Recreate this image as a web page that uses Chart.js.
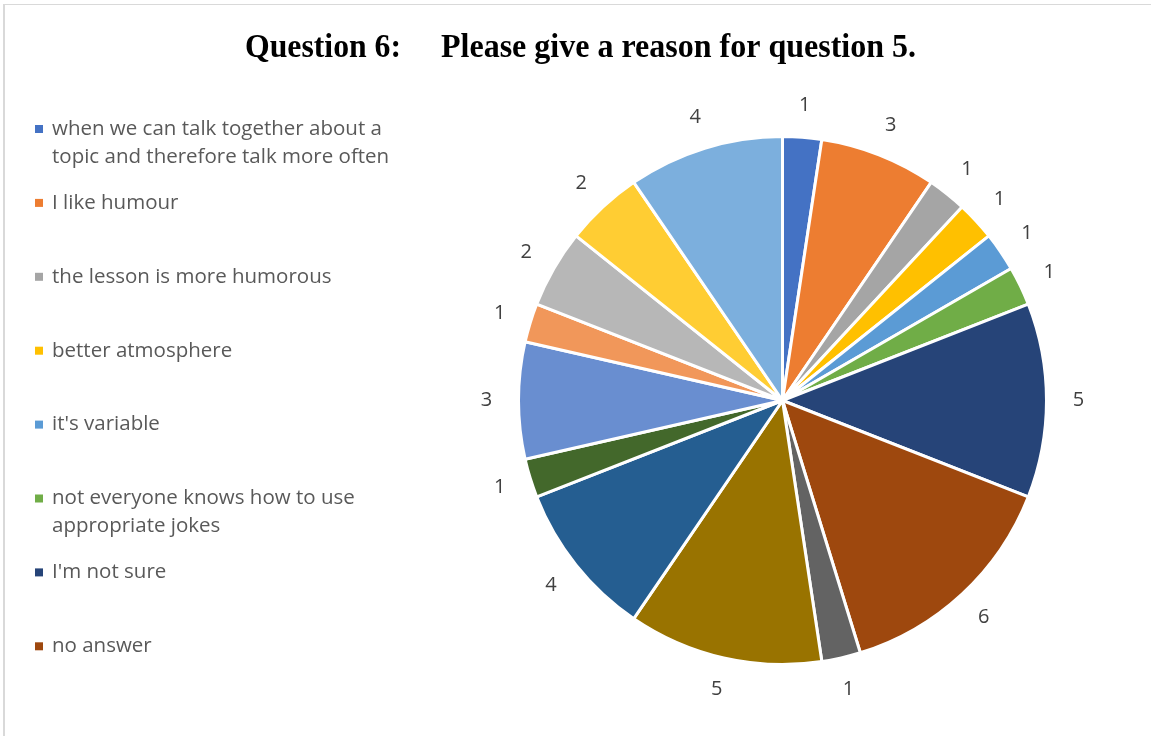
<!DOCTYPE html>
<html>
<head>
<meta charset="utf-8">
<title>Question 6</title>
<script src="https://cdn.jsdelivr.net/npm/chart.js@4.4.0/dist/chart.umd.min.js"></script>
<style>
    html, body { margin: 0; padding: 0; background: #fff; }
    #frame {
        position: absolute; left: 3px; top: 4px; width: 1148px; height: 732px;
        border-left: 2px solid #d9d9d9; border-top: 1px solid #d9d9d9;
    }
    #wrap { position: absolute; left: 0; top: 0; width: 1151px; height: 736px; }
</style>
</head>
<body>
<div id="frame"></div>
<div id="wrap"><canvas id="reasonChart" width="1151" height="736"></canvas></div>
<script>
// Answers to question 6 (only the first 8 categories appear in the legend)
const legendLines = [
    ['when we can talk together about a', 'topic and therefore talk more often'],
    ['I like humour'],
    ['the lesson is more humorous'],
    ['better atmosphere'],
    ["it's variable"],
    ['not everyone knows how to use', 'appropriate jokes'],
    ["I'm not sure"],
    ['no answer']
];

// Slice counts, clockwise from the top
const answerCounts = [1, 3, 1, 1, 1, 1, 5, 6, 1, 5, 4, 1, 3, 1, 2, 2, 4];

// Office palette: accents, darker accents, lighter accents
const sliceColors = [
    '#4472C4', '#ED7D31', '#A5A5A5', '#FFC000', '#5B9BD5', '#70AD47',
    '#264478', '#9E480E', '#636363', '#997300', '#255E91', '#43682B',
    '#698ED0', '#F1975A', '#B7B7B7', '#FFCD33', '#7CAFDD'
];

const categories = answerCounts.map((v, i) => legendLines[i] ? legendLines[i].join(' ') : '');

// Title, data labels and the left-hand legend
const decorPlugin = {
    id: 'decor',
    afterDatasetsDraw(chart) {
        const ctx = chart.ctx;
        const meta = chart.getDatasetMeta(0);
        ctx.save();

        // value labels outside each slice
        ctx.font = '20px "Open Sans"';
        ctx.fillStyle = '#404040';
        ctx.textAlign = 'center';
        ctx.textBaseline = 'middle';
        meta.data.forEach((arc, i) => {
            const mid = (arc.startAngle + arc.endAngle) / 2;
            const r = arc.outerRadius + 32;
            ctx.fillText(String(answerCounts[i]), arc.x + Math.cos(mid) * r, arc.y + Math.sin(mid) * r);
        });

        // title
        ctx.fillStyle = '#000';
        ctx.textAlign = 'left';
        ctx.textBaseline = 'alphabetic';
        ctx.font = 'bold 34px "Liberation Serif"';
        ctx.fillText('Question 6:', 245, 57, 156);
        ctx.fillText('Please give a reason for question 5.', 441, 57, 475);

        // legend
        ctx.font = '20.5px "Open Sans"';
        ctx.textBaseline = 'middle';
        legendLines.forEach((lines, i) => {
            const y = 129 + i * 73.9;
            ctx.fillStyle = sliceColors[i];
            ctx.fillRect(35, y - 4, 8, 8);
            ctx.fillStyle = '#595959';
            lines.forEach((line, j) => ctx.fillText(line, 52, y + j * 28, 340));
        });
        ctx.restore();
    }
};

document.addEventListener('DOMContentLoaded', function() {
    new Chart(document.getElementById('reasonChart'), {
        type: 'pie',
        data: {
            labels: categories,
            datasets: [{
                data: answerCounts,
                backgroundColor: sliceColors,
                borderColor: '#ffffff',
                borderWidth: 3
            }]
        },
        options: {
            responsive: false,
            animation: false,
            layout: {
                padding: { left: 517, right: 103, top: 135, bottom: 70 }
            },
            plugins: {
                legend: { display: false },
                title: { display: false },
                tooltip: { enabled: false }
            }
        },
        plugins: [decorPlugin]
    });
});
</script>
</body>
</html>
